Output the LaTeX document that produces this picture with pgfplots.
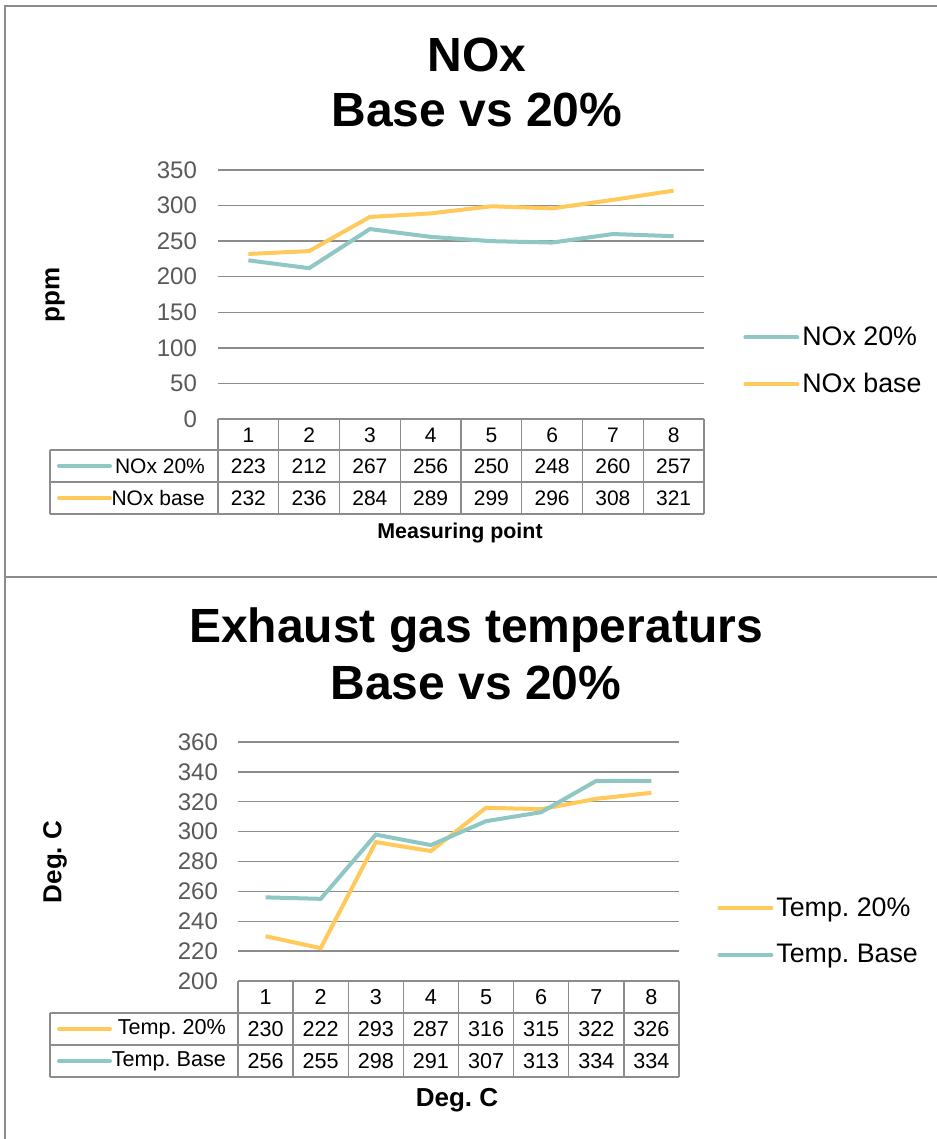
\documentclass[border=0pt]{standalone}
\usepackage{pgfplots}
\pgfplotsset{compat=1.18}
\usepackage{fontspec}
\setmainfont{Liberation Sans}
\frenchspacing
\definecolor{cteal}{HTML}{8EC7C3}
\definecolor{cyel}{HTML}{FFC95C}
\definecolor{gridc}{HTML}{8C8C8C}
\definecolor{tickc}{HTML}{595959}
\pgfplotsset{
  mystyle/.style={
    scale only axis, anchor=south west, clip=false,
    xmin=0.5, xmax=8.5, xtick=\empty,
    axis line style={draw=none}, major tick length=0pt,
    ymajorgrids, grid style={gridc, line width=0.7pt},
    /pgf/number format/assume math mode=true,
    y tick label style={tickc, font=\fontsize{12}{14}\selectfont},
    legend cell align=left,
    legend image code/.code={\draw[##1, line width=2pt, line cap=round] (0pt,0pt) -- (26pt,0pt);},
    legend style={draw=none, fill=none, anchor=west, inner sep=0pt,
      font=\fontsize{13.4}{15}\selectfont, row sep=9.5pt,
      nodes={inner sep=1.5pt}},
  }
}
\begin{document}
\begin{tikzpicture}
\useasboundingbox (0,0) rectangle (468pt,-569.5pt);
\begin{scope}[x=0.5pt,y=-0.5pt]
% frames
\draw[gridc, line width=1pt] (4.5,1140) -- (4.5,6) -- (940,6);
\draw[gridc, line width=1pt] (4,577) -- (940,577);
% titles
\node[font=\fontsize{24}{28}\selectfont\bfseries] at (477,55) {NOx};
\node[font=\fontsize{24}{28}\selectfont\bfseries] at (477,110) {Base vs 20\%};
\node[font=\fontsize{24}{28}\selectfont\bfseries] at (476,630) {Exhaust gas temperaturs};
\node[font=\fontsize{24}{28}\selectfont\bfseries] at (476,683) {Base vs 20\%};
% axis labels
\node[font=\fontsize{13}{15}\selectfont\bfseries, rotate=90] at (55,295) {ppm};
\node[font=\fontsize{10.7}{13}\selectfont\bfseries] at (460,533) {Measuring point};
\node[font=\fontsize{13}{15}\selectfont\bfseries, rotate=90] at (55,862) {Deg. C};
\node[font=\fontsize{13}{15}\selectfont\bfseries] at (457,1100) {Deg. C};
% ---- top table
\begin{scope}[gridc, line width=0.7pt]
\draw (218,419) -- (704,419);
\foreach \yy in {450,482,514} \draw (50,\yy) -- (704,\yy);
\draw (50,450) -- (50,514);
\foreach \i in {0,...,8} \draw ({218+\i*60.75},419) -- ({218+\i*60.75},514);
\end{scope}
\begin{scope}[font=\fontsize{10.5}{12}\selectfont]
\foreach \i in {1,...,8} \node at ({218+(\i-0.5)*60.75},435) {\i};
\foreach \v [count=\i] in {223,212,267,256,250,248,260,257} \node at ({218+(\i-0.5)*60.75},466) {\v};
\foreach \v [count=\i] in {232,236,284,289,299,296,308,321} \node at ({218+(\i-0.5)*60.75},498) {\v};
\draw[cteal, line width=2pt, line cap=round] (59,466) -- (110,466);
\draw[cyel, line width=2pt, line cap=round] (59,498) -- (110,498);
\node[anchor=east] at (212,466) {NOx 20\%};
\node[anchor=east] at (212,498) {NOx base};
\end{scope}
% ---- bottom table
\begin{scope}[gridc, line width=0.7pt]
\draw (238,981) -- (679,981);
\foreach \yy in {1013,1045,1077} \draw (50,\yy) -- (679,\yy);
\draw (50,1013) -- (50,1077);
\foreach \i in {0,...,8} \draw ({238+\i*55.125},981) -- ({238+\i*55.125},1077);
\end{scope}
\begin{scope}[font=\fontsize{10.8}{12}\selectfont]
\foreach \i in {1,...,8} \node at ({238+(\i-0.5)*55.125},997) {\i};
\foreach \v [count=\i] in {230,222,293,287,316,315,322,326} \node at ({238+(\i-0.5)*55.125},1029) {\v};
\foreach \v [count=\i] in {256,255,298,291,307,313,334,334} \node at ({238+(\i-0.5)*55.125},1061) {\v};
\draw[cyel, line width=2pt, line cap=round] (59,1029) -- (110,1029);
\draw[cteal, line width=2pt, line cap=round] (59,1061) -- (110,1061);
\node[anchor=east] at (233,1029) {Temp. 20\%};
\node[anchor=east] at (233,1061) {Temp. Base};
\end{scope}
\end{scope}
% ---- top axis
\begin{axis}[mystyle, at={(109pt,-209.5pt)}, width=243pt, height=124.5pt,
  ymin=0, ymax=350, ytick={0,50,...,350},
  y tick label style={xshift=-7pt},
  legend style={at={(1,0.233)}, xshift=19.5pt}]
\addplot[cteal, line width=2pt] coordinates {(1,223) (2,212) (3,267) (4,256) (5,250) (6,248) (7,260) (8,257)};
\addlegendentry{NOx 20\%}
\addplot[cyel, line width=2pt] coordinates {(1,232) (2,236) (3,284) (4,289) (5,299) (6,296) (7,308) (8,321)};
\addlegendentry{NOx base}
\end{axis}
% ---- bottom axis
\begin{axis}[mystyle, at={(119pt,-490.5pt)}, width=220.5pt, height=119.5pt,
  ymin=200, ymax=360, ytick={200,220,...,360},
  y tick label style={xshift=-6.5pt},
  legend style={at={(1,0.207)}, xshift=19pt}]
\addplot[cyel, line width=2pt] coordinates {(1,230) (2,222) (3,293) (4,287) (5,316) (6,315) (7,322) (8,326)};
\addlegendentry{Temp. 20\%}
\addplot[cteal, line width=2pt] coordinates {(1,256) (2,255) (3,298) (4,291) (5,307) (6,313) (7,334) (8,334)};
\addlegendentry{Temp. Base}
\end{axis}
\end{tikzpicture}
\end{document}
